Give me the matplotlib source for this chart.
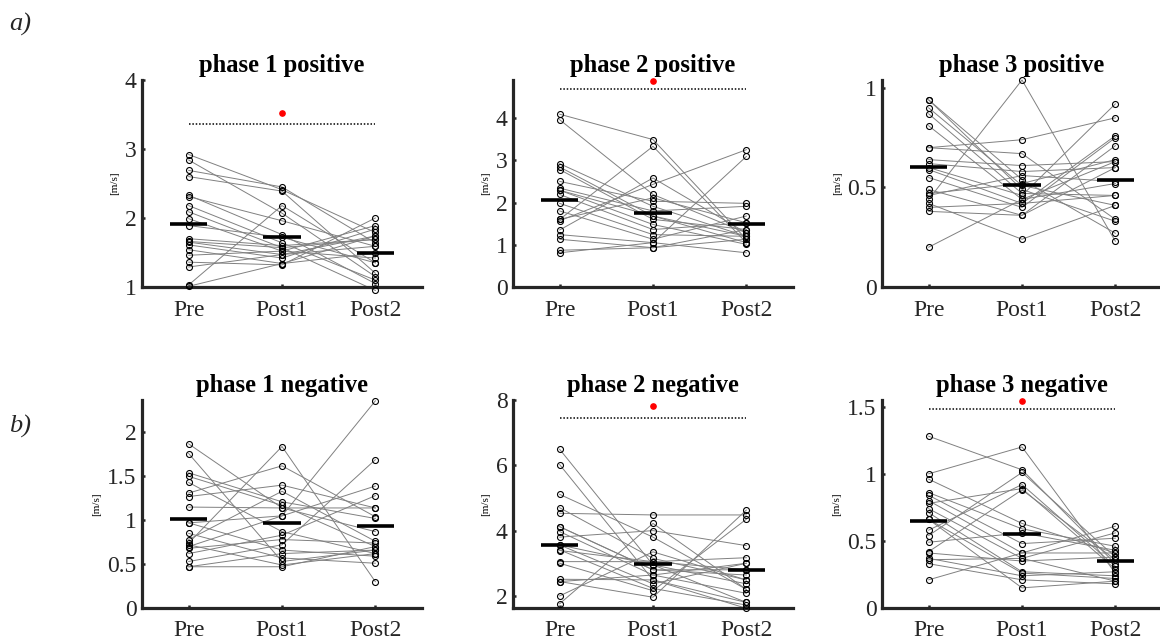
import numpy as np
import matplotlib
matplotlib.use("Agg")
import matplotlib.pyplot as plt
from matplotlib.ticker import FormatStrFormatter

plt.rcParams['font.family'] = ['Liberation Serif', 'DejaVu Serif']

categories = ['Pre', 'Post1', 'Post2']

# phase 1 positive
p1pos_pre = [2.92, 2.84, 2.69, 2.60, 2.33, 2.31, 2.18, 2.09, 1.99, 1.89,
             1.70, 1.65, 1.61, 1.54, 1.46, 1.36, 1.29, 1.03, 1.01, 1.66]
p1pos_post1 = [2.41, 2.07, 2.45, 2.39, 1.76, 1.96, 1.64, 1.57, 1.52, 1.72,
               1.60, 1.47, 1.42, 1.34, 1.52, 1.32, 1.47, 2.18, 1.34, 1.57]
p1pos_post2 = [1.79, 1.15, 1.64, 1.20, 1.05, 1.59, 1.10, 0.95, 1.42, 1.35,
               1.69, 1.74, 1.84, 1.49, 1.89, 2.00, 1.59, 1.35, 1.74, 1.69]
p1pos_med = [1.92, 1.72, 1.49]

# phase 2 positive
p2pos_pre = [4.09, 3.96, 2.92, 2.84, 2.78, 2.50, 2.34, 2.29, 2.19, 1.98,
             1.80, 1.60, 1.57, 1.35, 1.24, 1.13, 0.87, 0.81, 1.60, 2.29]
p2pos_post1 = [3.49, 2.19, 1.91, 1.68, 1.60, 2.03, 1.80, 1.48, 1.36, 1.24,
               1.13, 3.33, 2.43, 2.58, 1.05, 0.93, 0.93, 1.05, 2.11, 1.68]
p2pos_post2 = [1.13, 1.28, 1.20, 1.05, 1.36, 1.98, 1.91, 1.01, 1.52, 1.20,
               1.68, 1.05, 3.25, 1.28, 3.09, 1.36, 1.13, 0.81, 1.52, 1.20]
p2pos_med = [2.05, 1.75, 1.50]

# phase 3 positive
p3pos_pre = [0.94, 0.94, 0.90, 0.87, 0.81, 0.70, 0.70, 0.64, 0.62, 0.60,
             0.59, 0.55, 0.49, 0.47, 0.46, 0.44, 0.42, 0.40, 0.38, 0.20]
p3pos_post1 = [0.49, 0.54, 0.51, 0.47, 0.44, 0.74, 0.67, 0.61, 0.58, 0.46,
               0.42, 0.40, 0.36, 0.52, 0.56, 1.04, 0.24, 0.42, 0.36, 0.44]
p3pos_post2 = [0.33, 0.27, 0.41, 0.46, 0.52, 0.85, 0.34, 0.63, 0.60, 0.92,
               0.76, 0.75, 0.71, 0.64, 0.53, 0.23, 0.41, 0.46, 0.60, 0.63]
p3pos_med = [0.605, 0.51, 0.54]

# phase 1 negative
p1neg_pre = [1.87, 1.76, 1.54, 1.50, 1.43, 1.31, 1.27, 1.15, 0.97, 0.85,
             0.78, 0.74, 0.70, 0.68, 0.62, 0.53, 0.47, 0.47, 0.72, 0.97]
p1neg_post1 = [1.14, 0.53, 1.21, 1.17, 0.87, 1.62, 1.40, 1.14, 0.66, 0.57,
               1.33, 1.84, 1.05, 0.78, 0.83, 0.72, 0.47, 0.62, 0.49, 1.05]
p1neg_post2 = [0.87, 0.66, 1.02, 0.70, 0.62, 1.04, 1.14, 1.14, 0.59, 0.51,
               0.76, 0.30, 2.36, 0.74, 1.28, 1.69, 0.70, 0.66, 0.62, 1.39]
p1neg_med = [1.01, 0.97, 0.94]

# phase 2 negative
p2neg_pre = [6.49, 6.02, 5.11, 4.70, 4.53, 4.12, 3.97, 3.80, 3.56, 3.41,
             3.39, 3.05, 3.00, 2.51, 2.44, 2.00, 1.76, 4.12, 3.56, 2.44]
p2neg_post1 = [2.95, 2.49, 3.80, 3.15, 4.48, 2.80, 2.64, 4.00, 2.37, 2.23,
               3.05, 3.05, 2.16, 2.49, 1.96, 3.35, 4.22, 2.80, 2.95, 2.64]
p2neg_post2 = [2.37, 1.80, 2.20, 2.49, 4.48, 2.64, 2.08, 3.54, 3.00, 1.72,
               3.17, 2.80, 4.35, 1.62, 4.63, 2.49, 2.20, 2.80, 1.80, 3.00]
p2neg_med = [3.57, 2.99, 2.80]

# phase 3 negative
p3neg_pre = [1.28, 1.00, 0.96, 0.86, 0.84, 0.80, 0.78, 0.74, 0.71, 0.66,
             0.58, 0.54, 0.49, 0.42, 0.41, 0.37, 0.36, 0.33, 0.21, 0.66]
p3neg_post1 = [1.03, 1.20, 0.63, 0.59, 0.48, 0.41, 0.89, 0.37, 0.27, 0.26,
               0.92, 1.01, 0.56, 0.88, 0.35, 0.24, 0.37, 0.21, 0.41, 0.15]
p3neg_post2 = [0.33, 0.26, 0.41, 0.46, 0.52, 0.61, 0.29, 0.56, 0.24, 0.22,
               0.31, 0.38, 0.43, 0.36, 0.38, 0.27, 0.20, 0.18, 0.41, 0.20]
p3neg_med = [0.65, 0.55, 0.35]

# significance: dotted bar level and red dot level (None = no marker)
sig_line = [3.36, 4.69, None, None, 7.46, 1.48]
sig_dot = [3.52, 4.88, None, None, 7.81, 1.54]

titles = ['phase 1 positive', 'phase 2 positive', 'phase 3 positive',
          'phase 1 negative', 'phase 2 negative', 'phase 3 negative']
ylims = [(1, 4), (0, 4.9), (0, 1.04), (0, 2.37), (1.63, 8), (0, 1.55)]
yticks = [[1, 2, 3, 4], [0, 1, 2, 3, 4], [0, 0.5, 1], [0, 0.5, 1, 1.5, 2],
          [2, 4, 6, 8], [0, 0.5, 1, 1.5]]

panels = [
    (p1pos_pre, p1pos_post1, p1pos_post2, p1pos_med),
    (p2pos_pre, p2pos_post1, p2pos_post2, p2pos_med),
    (p3pos_pre, p3pos_post1, p3pos_post2, p3pos_med),
    (p1neg_pre, p1neg_post1, p1neg_post2, p1neg_med),
    (p2neg_pre, p2neg_post1, p2neg_post2, p2neg_med),
    (p3neg_pre, p3neg_post1, p3neg_post2, p3neg_med),
]

W, H = 1160, 641
fig = plt.figure(figsize=(W / 100, H / 100), dpi=100)

lefts = [142, 513, 882]
rows = [(80, 287), (400, 608)]
spine_col = '#262626'
x = np.array([1, 2, 3])

for i, (pre, post1, post2, med) in enumerate(panels):
    r, c = divmod(i, 3)
    top, bot = rows[r]
    ax = fig.add_axes([lefts[c] / W, (H - bot) / H, 280 / W, (bot - top) / H])

    vals = np.array([pre, post1, post2])
    for j in range(vals.shape[1]):
        ax.plot(x, vals[:, j], '-', color='#808080', lw=0.7, clip_on=False, zorder=2)
    for k in range(3):
        ax.plot(np.full(vals.shape[1], x[k]), vals[k], 'o', mfc='none', mec='black',
                ms=4.3, mew=0.8, clip_on=False, zorder=3)
        ax.plot([x[k] - 0.2, x[k] + 0.2], [med[k], med[k]], '-', color='black',
                lw=2.6, solid_capstyle='butt', clip_on=False, zorder=4)

    if sig_line[i] is not None:
        ax.plot([1, 3], [sig_line[i], sig_line[i]], color='black', lw=1.1,
                linestyle=(0, (1, 1.2)), clip_on=False)
        ax.plot(2, sig_dot[i], 'o', color='red', ms=3.8, clip_on=False)

    ax.set_xlim(0.5, 3.5)
    ax.set_ylim(*ylims[i])
    ax.set_xticks(x)
    ax.set_xticklabels(categories)
    ax.set_yticks(yticks[i])
    ax.yaxis.set_major_formatter(FormatStrFormatter('%g'))
    ax.tick_params(direction='in', length=2.5, width=1.8, colors=spine_col,
                   labelsize=17, labelcolor='#262626')
    ax.tick_params(axis='x', pad=9)
    ax.tick_params(axis='y', pad=4)
    for s in ['top', 'right']:
        ax.spines[s].set_visible(False)
    for s in ['left', 'bottom']:
        ax.spines[s].set_linewidth(2.3)
        ax.spines[s].set_color(spine_col)
    ax.set_title(titles[i], fontsize=17.7, fontweight='bold', pad=6)
    ax.set_ylabel('[m/s]', fontsize=8, labelpad=4)

fig.text(0.008, 0.962, 'a)', fontsize=19, style='italic', va='center', color='#262626')
fig.text(0.008, 0.335, 'b)', fontsize=19, style='italic', va='center', color='#262626')

fig.savefig('out.png', dpi=100)
